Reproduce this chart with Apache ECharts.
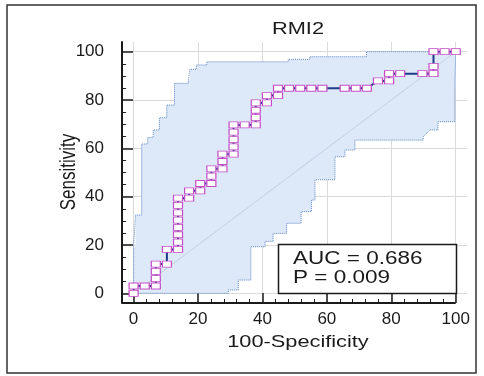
<!DOCTYPE html>
<html>
<head>
<meta charset="utf-8">
<script src="https://cdn.jsdelivr.net/npm/echarts@6/dist/echarts.min.js"></script>
<style>
  html, body { margin: 0; padding: 0; background: #fff; }
  #chart { width: 484px; height: 376px; }
</style>
</head>
<body>
<div id="chart"></div>
<script>
// ROC points (100-Specificity, Sensitivity)
const fpr = [0, 0, 3.45, 6.9, 6.9, 6.9, 6.9, 10.34, 10.34, 13.79, 13.79, 13.79, 13.79, 13.79, 13.79, 13.79, 13.79,
  17.24, 17.24, 20.69, 20.69, 24.14, 24.14, 24.14, 27.59, 27.59, 27.59, 31.03, 31.03, 31.03, 31.03, 31.03,
  34.48, 37.93, 37.93, 37.93, 37.93, 41.38, 41.38, 44.83, 44.83, 48.28, 51.72, 55.17, 58.62, 65.52, 68.97, 72.41,
  75.86, 79.31, 79.31, 82.76, 89.66, 93.1, 93.1, 93.1, 96.55, 100];
const tpr = [0, 3.03, 3.03, 3.03, 6.06, 9.09, 12.12, 12.12, 18.18, 18.18, 21.21, 24.24, 27.27, 30.3, 33.33, 36.36, 39.39,
  39.39, 42.42, 42.42, 45.45, 45.45, 48.48, 51.52, 51.52, 54.55, 57.58, 57.58, 60.61, 63.64, 66.67, 69.7,
  69.7, 69.7, 72.73, 75.76, 78.79, 78.79, 81.82, 81.82, 84.85, 84.85, 84.85, 84.85, 84.85, 84.85, 84.85, 84.85,
  87.88, 87.88, 90.91, 90.91, 90.91, 90.91, 93.94, 100, 100, 100];

// confidence band edges
const upperBand = [[0, 0], [0, 19.3], [0.6, 19.3], [0.6, 32.4], [2.5, 32.4], [2.5, 61.8], [4.4, 61.8], [4.4, 64.5],
  [6.1, 64.5], [6.1, 67.6], [8, 67.6], [8, 72.7], [10.3, 72.7], [10.3, 77.9], [12.7, 77.9], [12.7, 86.9],
  [17, 86.9], [17, 88.5], [17.5, 88.5], [17.5, 92.7], [19.5, 92.7], [19.5, 94.5], [22.7, 94.5], [22.7, 95.8],
  [48, 95.8], [48, 96.8], [54.7, 96.8], [54.7, 97.9], [72.3, 97.9], [72.3, 100], [100, 100]];
const lowerBand = [[0, 0], [29.4, 0], [29.4, 1.4], [32.5, 1.4], [32.5, 5.5], [36.4, 5.5], [36.4, 19.3], [40.8, 19.3],
  [40.8, 21.5], [43.3, 21.5], [43.3, 24.8], [47.5, 24.8], [47.5, 29], [52, 29], [52, 33.8], [55.2, 33.8],
  [55.2, 38.6], [56.3, 38.6], [56.3, 47], [62.5, 47], [62.5, 56.5], [65.6, 56.5], [65.6, 59.3], [68.7, 59.3],
  [68.7, 63.4], [89.9, 63.4], [89.9, 64.8], [92, 67.6], [94.5, 67.6], [94.5, 71], [99.7, 71], [99.7, 85.5],
  [100, 85.5], [100, 100]];

const majorTicks = [0, 20, 40, 60, 80, 100];
const xMinorTicks = [4, 8, 12, 16, 24, 28, 32, 36, 44, 48, 52, 56, 64, 68, 72, 76, 84, 88, 92, 96];
const yMinorTicks = [5, 10, 15, 25, 30, 35, 45, 50, 55, 65, 70, 75, 85, 90, 95];
const xAxisLine = [[-3.6, -4], [100, -4]];
const statLines = ['AUC = 0.686', 'P = 0.009'];

const font = '"Liberation Sans", Arial, sans-serif';
const ink = '#1a1a1a';
const stretch = 1.28; // the picture's text is wider than plain Arial

const chart = echarts.init(document.getElementById('chart'));

const minorAxis = (extra, ticks) => Object.assign({
  type: 'value',
  axisLine: { show: false, onZero: false },
  axisLabel: { show: false },
  splitLine: { show: false },
  axisTick: { customValues: ticks, inside: true, length: 4, lineStyle: { color: ink, width: 1 } }
}, extra);

chart.setOption({
  animation: false,
  backgroundColor: '#fff',
  grid: { left: 122, right: 17, top: 42, bottom: 73 },
  xAxis: [
    {
      type: 'value',
      min: -3.6,
      max: 103.5,
      axisLine: { show: false, onZero: false },
      axisTick: { customValues: majorTicks, inside: true, length: 10, lineStyle: { color: ink, width: 1.5 } },
      axisLabel: { customValues: majorTicks, margin: 8, fontSize: 17, color: ink, fontFamily: font },
      splitLine: { show: true, lineStyle: { color: '#dadada', width: 1 } }
    },
    minorAxis({ min: -3.6, max: 103.5, position: 'bottom' }, xMinorTicks)
  ],
  yAxis: [
    {
      type: 'value',
      min: -4,
      max: 104,
      axisLine: { show: true, onZero: false, lineStyle: { color: ink, width: 2 } },
      axisTick: { customValues: majorTicks, inside: true, length: 11, lineStyle: { color: ink, width: 1.5 } },
      axisLabel: { customValues: majorTicks, margin: 18, fontSize: 17, color: ink, fontFamily: font },
      splitLine: { show: true, lineStyle: { color: '#dadada', width: 1 } }
    },
    minorAxis({ min: -4, max: 104, position: 'left' }, yMinorTicks)
  ],
  series: [
    {
      // shaded confidence band
      type: 'custom',
      data: [[0, 0]],
      silent: true,
      z: 1,
      renderItem: (params, api) => {
        const pts = upperBand.map(p => api.coord(p));
        for (let i = lowerBand.length - 1; i >= 0; i--) pts.push(api.coord(lowerBand[i]));
        return { type: 'polygon', shape: { points: pts }, style: { fill: '#dde9f8', stroke: null } };
      }
    },
    {
      type: 'line', data: upperBand, symbol: 'none', z: 2, silent: true,
      lineStyle: { color: '#5d86c2', width: 1, type: [1, 1] }
    },
    {
      type: 'line', data: lowerBand, symbol: 'none', z: 2, silent: true,
      lineStyle: { color: '#5d86c2', width: 1, type: [1, 1] }
    },
    {
      // diagonal reference
      type: 'line', data: [[0, 0], [100, 100]], symbol: 'none', z: 3, silent: true,
      lineStyle: { color: '#c3cde0', width: 1 }
    },
    {
      // bottom axis line stops at 100
      type: 'line', data: xAxisLine, symbol: 'none', z: 6, silent: true, clip: false,
      lineStyle: { color: ink, width: 2 }
    },
    {
      type: 'line',
      data: fpr.map((x, i) => [x, tpr[i]]),
      z: 5,
      showAllSymbol: true,
      symbol: 'rect',
      symbolSize: [9, 6],
      lineStyle: { color: '#1f3c88', width: 2 },
      itemStyle: { color: '#fff', borderColor: '#c54ec6', borderWidth: 1 }
    }
  ],
  graphic: [
    { type: 'rect', shape: { x: 7, y: 5, width: 469, height: 368 }, style: { fill: null, stroke: '#333', lineWidth: 1.5 }, z: 0 },
    { type: 'text', x: 298, y: 29, scaleX: stretch, style: { text: 'RMI2', font: '17px ' + font, fill: ink, textAlign: 'center', textVerticalAlign: 'middle' } },
    { type: 'text', x: 298, y: 342, scaleX: stretch, style: { text: '100-Specificity', font: '17px ' + font, fill: ink, textAlign: 'center', textVerticalAlign: 'middle' } },
    { type: 'text', x: 69, y: 172, rotation: Math.PI / 2, scaleY: stretch, style: { text: 'Sensitivity', font: '17px ' + font, fill: ink, textAlign: 'center', textVerticalAlign: 'middle' } },
    { type: 'rect', shape: { x: 278.5, y: 244.5, width: 178, height: 49 }, style: { fill: '#fff', stroke: ink, lineWidth: 1.5 }, z: 100 },
    { type: 'text', x: 293, y: 259, z: 101, scaleX: 1.25, style: { text: statLines[0], font: '18px ' + font, fill: ink, textVerticalAlign: 'middle' } },
    { type: 'text', x: 293, y: 278, z: 101, scaleX: 1.25, style: { text: statLines[1], font: '18px ' + font, fill: ink, textVerticalAlign: 'middle' } }
  ]
});
</script>
</body>
</html>
